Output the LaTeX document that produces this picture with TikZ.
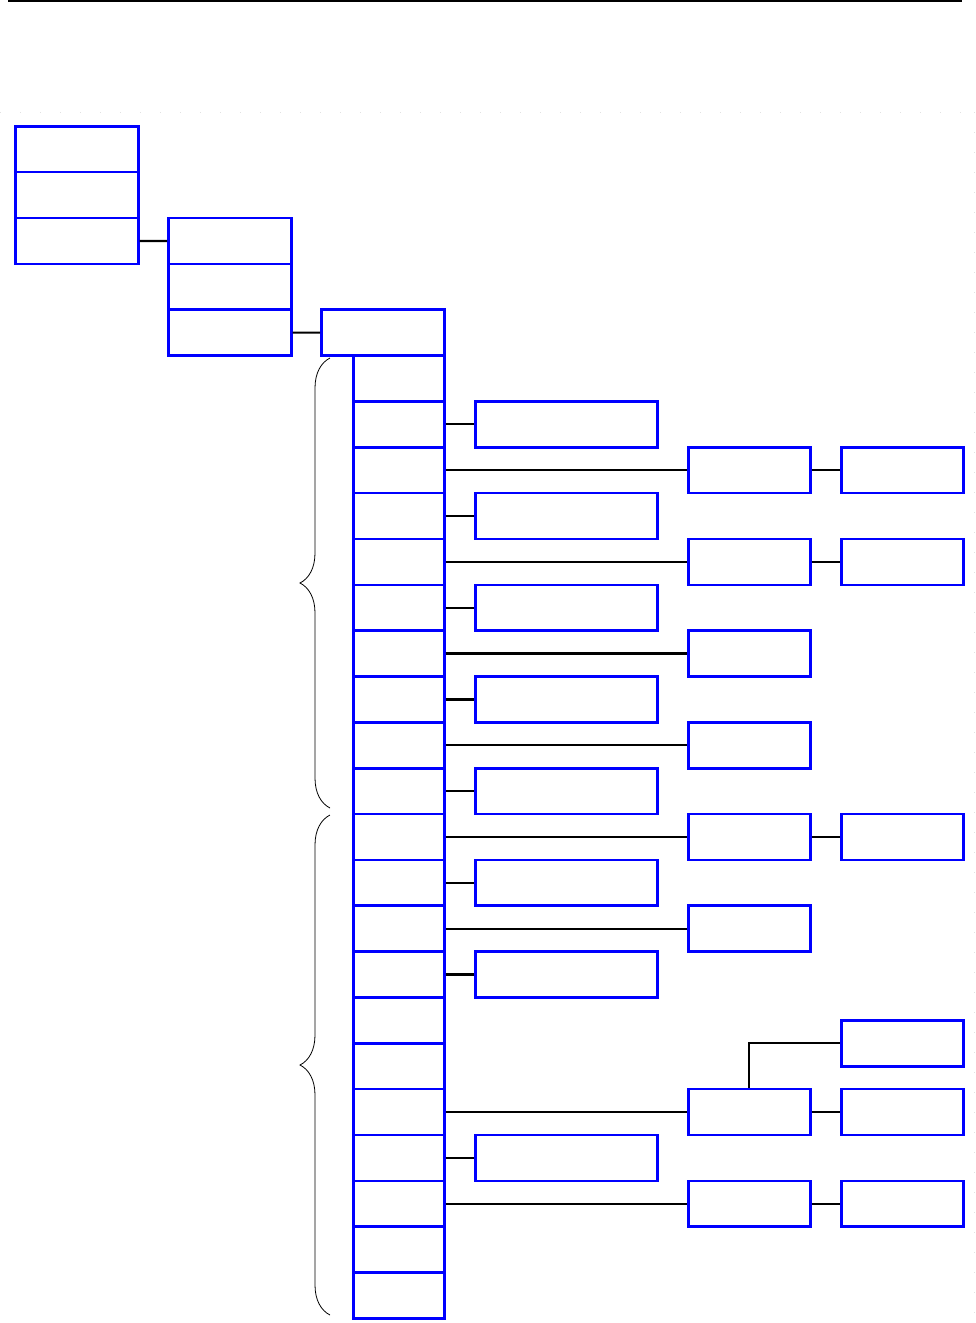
\documentclass[tikz,border=0pt]{standalone}
\usepackage{xcolor}
\usetikzlibrary{positioning,decorations.pathreplacing}
\definecolor{Frame}{HTML}{0000FF}
\definecolor{Faint}{HTML}{E2E2E2}

\begin{document}
\begin{tikzpicture}[x=1pt,y=-1pt,
  cell/.style={draw=Frame,line width=2.6pt,minimum height=45.85pt,inner sep=0pt,anchor=north west},
  wide/.style={cell,minimum width=123pt},
  slim/.style={cell,minimum width=91pt},
  ebox/.style={cell,minimum width=182pt},
  fbox/.style={cell,minimum width=122pt},
  link/.style={draw,line width=2.2pt},
  curly/.style={decorate,decoration={brace,amplitude=30pt},line width=0.8pt}]
  \useasboundingbox (0,0) rectangle (975,1323);
  \draw[line width=2pt] (8,1) -- (962,1);
  \draw[Faint,line width=0.8pt,dash pattern=on 1pt off 19pt] (0,112) -- (975,112);
  \draw[Faint,line width=0.8pt,dash pattern=on 1pt off 19pt] (974,112) -- (974,1323);
  % first two levels
  \foreach \k in {1,2,3} {
    \node[wide] (a\k) at (14,{125+45.85*(\k-1)}) {};
    \node[wide] (b\k) at (167,{216.7+45.85*(\k-1)}) {};
  }
  \node[wide] (hd) at (320,308.4) {};
  \draw[link] (a3.east) -- (b1.west);
  \draw[link] (b3.east) -- (hd.west);
  % long column
  \foreach \i in {0,...,20}
    \node[slim] (r\i) at (352,{354.25+45.85*\i}) {};
  \foreach \i in {1,3,5,7,9,11,13,17} {
    \node[ebox] (e\i) at (474,{354.25+45.85*\i}) {};
    \draw[link] (r\i.east) -- (e\i.west);
  }
  \foreach \i in {2,4,6,8,10,12,16,18} {
    \node[fbox] (f\i) at (687,{354.25+45.85*\i}) {};
    \draw[link] (r\i.east) -- (f\i.west);
  }
  \foreach \i in {2,4,10,16,18} {
    \node[fbox] (g\i) at (840,{354.25+45.85*\i}) {};
    \draw[link] (f\i.east) -- (g\i.west);
  }
  \node[fbox] (gx) at (840,{354.25+45.85*14.5}) {};
  \draw[link] (f16.north) |- (gx.west);
  % braces
  \draw[curly] (330,808) -- (330,358);
  \draw[curly] (330,1315) -- (330,815);
\end{tikzpicture}
\end{document}
